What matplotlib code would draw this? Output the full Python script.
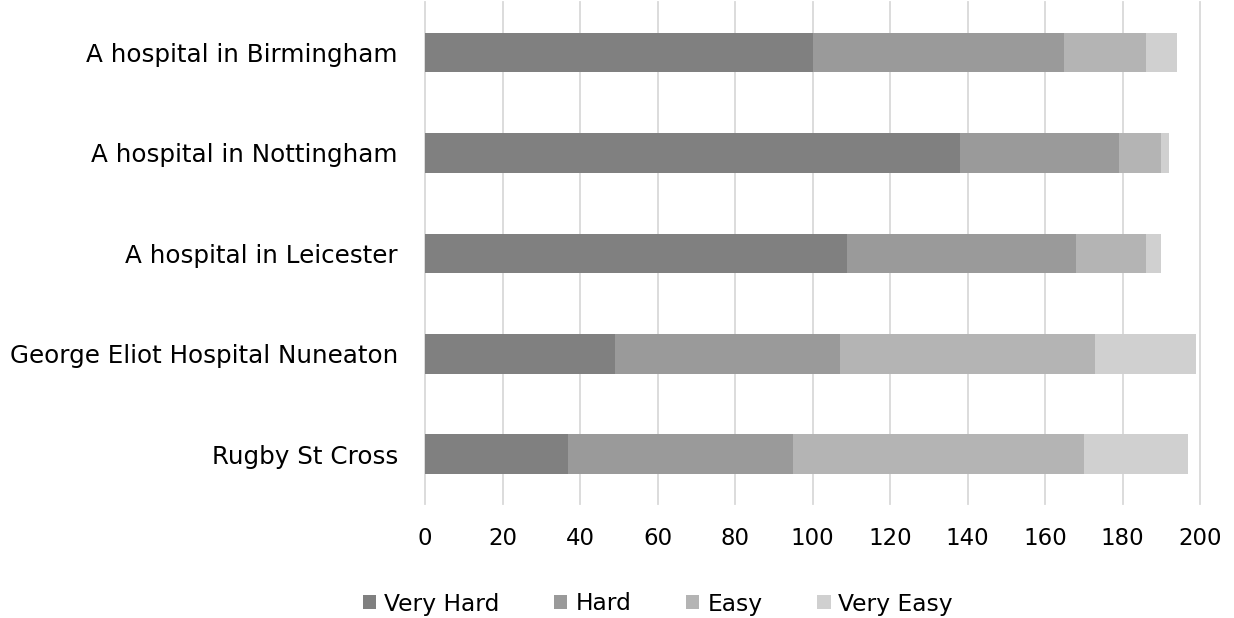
import matplotlib
matplotlib.use("Agg")
import matplotlib.pyplot as plt
from matplotlib.patches import Patch

categories = ["A hospital in Birmingham", "A hospital in Nottingham", "A hospital in Leicester",
              "George Eliot Hospital Nuneaton", "Rugby St Cross"]
very_hard = [100, 138, 109, 49, 37]
hard = [65, 41, 59, 58, 58]
easy = [21, 11, 18, 66, 75]
very_easy = [8, 2, 4, 26, 27]
series_names = ["Very Hard", "Hard", "Easy", "Very Easy"]
colors = ["#808080", "#9a9a9a", "#b4b4b4", "#d0d0d0"]
xticks = [0, 20, 40, 60, 80, 100, 120, 140, 160, 180, 200]

plt.rcParams['font.family'] = ['DejaVu Sans']

fig = plt.figure(figsize=(12.34, 6.18), dpi=100)
ax = fig.add_axes([425/1234, 1 - 504.4/618, 775/1234, 502/618])

ypos = list(range(len(categories)))[::-1]
left = [0]*len(categories)
for vals, name, c in zip([very_hard, hard, easy, very_easy], series_names, colors):
    ax.barh(ypos, vals, left=left, height=0.395, color=c, label=name, zorder=3)
    left = [l + v for l, v in zip(left, vals)]

ax.set_xlim(0, 200)
ax.set_ylim(-0.5, len(categories) - 0.5)
ax.set_xticks(xticks)
ax.set_yticks(ypos)
ax.set_yticklabels(categories, fontsize=17.7)
ax.grid(axis='x', color='#d9d9d9', linewidth=1.3, zorder=0)
for gl in ax.get_xgridlines():
    gl.set_clip_on(False)
for s in ax.spines.values():
    s.set_visible(False)
ax.tick_params(axis='both', length=0, colors='black')
ax.tick_params(axis='x', pad=16, labelsize=16.5)
ax.tick_params(axis='y', pad=19.5)

handles = [Patch(facecolor=c, label=n) for c, n in zip(colors, series_names)]
fig.legend(handles=handles, loc='center', bbox_to_anchor=(658/1234, 1 - 604/618), ncol=4,
           frameon=False, fontsize=16.8, handlelength=0.56, handleheight=0.56,
           handletextpad=0.34, columnspacing=2.36, borderpad=0)

fig.savefig("out.png", dpi=100)
